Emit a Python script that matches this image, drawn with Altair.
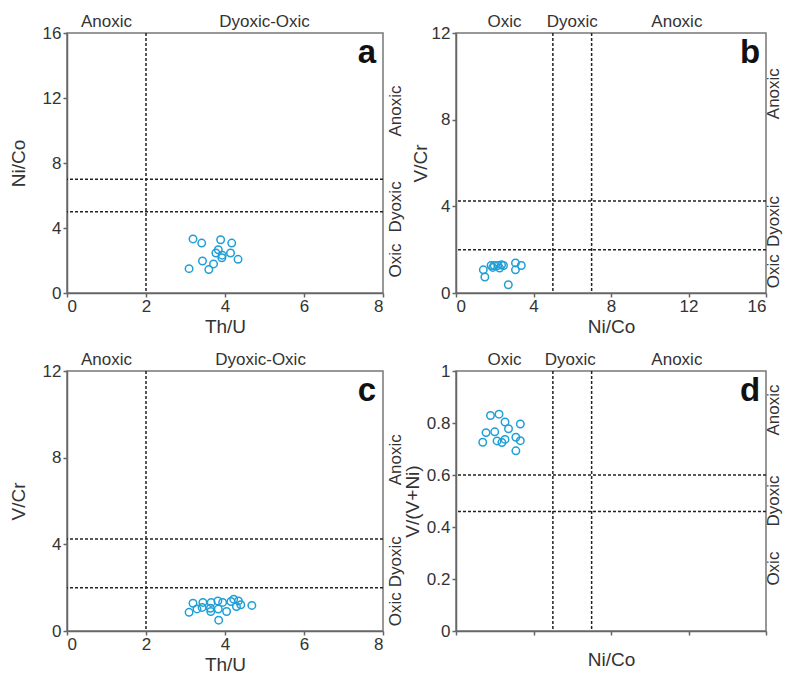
import altair as alt
import pandas as pd

FONT = "Liberation Sans"
W1, W2, H = 316, 310, 260
PT_COLOR = "#1f9fd6"
ZFS = 17  # zone label font size

# ---------- data ----------
a_thu = [3.19, 3.41, 3.89, 4.17, 3.83, 3.77, 3.93, 3.92, 4.14, 4.33, 3.43, 3.71, 3.59, 3.09]
a_nico = [3.33, 3.07, 3.28, 3.07, 2.66, 2.46, 2.33, 2.17, 2.46, 2.07, 1.97, 1.79, 1.44, 1.50]

b_nico = [1.41, 1.49, 1.81, 1.97, 2.16, 2.25, 2.45, 3.07, 3.07, 3.37, 2.70, 1.90, 2.35]
b_vcr = [1.07, 0.74, 1.27, 1.27, 1.27, 1.15, 1.27, 1.39, 1.07, 1.27, 0.38, 1.18, 1.30]

c_thu = [3.09, 3.19, 3.29, 3.44, 3.42, 3.63, 3.65, 3.82, 3.94, 3.64, 3.83, 4.04, 3.84,
         4.15, 4.22, 4.34, 4.40, 4.29, 4.68]
c_vcr = [0.86, 1.28, 1.02, 1.32, 1.09, 1.05, 1.32, 1.39, 1.32, 0.90, 1.01, 0.90, 0.50,
         1.36, 1.47, 1.39, 1.21, 1.13, 1.18]

d_nico = [1.78, 2.22, 2.53, 2.71, 3.32, 1.55, 2.00, 1.38, 2.12, 2.37, 2.53, 3.09, 3.32, 3.09]
d_vvni = [0.829, 0.834, 0.804, 0.778, 0.796, 0.763, 0.766, 0.726, 0.731, 0.725, 0.737,
          0.745, 0.732, 0.693]

# thresholds
a_vlines, a_hlines = [2], [7, 5]
b_vlines, b_hlines = [5, 7], [4.25, 2]
c_vlines, c_hlines = [2], [4.25, 2]
d_vlines, d_hlines = [5, 7], [0.6, 0.46]

# zone labels (top: label, x-position; right: label, y-position)
a_top = (["Anoxic", "Dyoxic-Oxic"], [1.0, 5.0])
a_right = (["Anoxic", "Dyoxic", "Oxic"], [11.2, 5.3, 2.0])
b_top = (["Oxic", "Dyoxic", "Anoxic"], [2.5, 6.0, 11.4])
b_right = (["Anoxic", "Dyoxic", "Oxic"], [9.2, 3.3, 1.0])
c_top = (["Anoxic", "Dyoxic-Oxic"], [1.0, 4.9])
c_right = (["Anoxic", "Dyoxic", "Oxic"], [7.9, 3.2, 1.0])
d_top = (["Oxic", "Dyoxic", "Anoxic"], [2.5, 5.9, 11.4])
d_right = (["Anoxic", "Dyoxic", "Oxic"], [0.85, 0.5, 0.24])


def panel(w, xs, ys, xdom, ydom, xticks, yticks, xtitle, ytitle, vlines, hlines,
          top, right, letter, xlabels=True, ytitle_pad=8, rlab_off=13, yfmt="~g",
          xtitle_pad=3):
    xsc = alt.Scale(domain=xdom, nice=False, zero=False)
    ysc = alt.Scale(domain=ydom, nice=False, zero=False)
    pts = alt.Chart(pd.DataFrame({"x": xs, "y": ys})).mark_point(
        shape="circle", filled=False, size=56, strokeWidth=1.5, color=PT_COLOR, opacity=1
    ).encode(
        x=alt.X("x:Q", scale=xsc, title=xtitle,
                axis=alt.Axis(values=xticks, labels=xlabels, grid=False,
                              titlePadding=xtitle_pad)),
        y=alt.Y("y:Q", scale=ysc, title=ytitle,
                axis=alt.Axis(values=yticks, grid=False, titlePadding=ytitle_pad,
                              format=yfmt)),
    )
    vr = alt.Chart(pd.DataFrame({"x": vlines})).mark_rule(
        color="#222", strokeDash=[3, 2], strokeWidth=1.5
    ).encode(x=alt.X("x:Q", scale=xsc))
    hr = alt.Chart(pd.DataFrame({"y": hlines})).mark_rule(
        color="#222", strokeDash=[3, 2], strokeWidth=1.5
    ).encode(y=alt.Y("y:Q", scale=ysc))
    tl = alt.Chart(pd.DataFrame({"label": top[0], "x": top[1]})).mark_text(
        font=FONT, fontSize=ZFS, color="#333", baseline="alphabetic", align="center"
    ).encode(x=alt.X("x:Q", scale=xsc), y=alt.value(-6), text="label:N")
    rl = alt.Chart(pd.DataFrame({"label": right[0], "y": right[1]})).mark_text(
        font=FONT, fontSize=ZFS, color="#333", baseline="middle", align="center", angle=270
    ).encode(y=alt.Y("y:Q", scale=ysc), x=alt.value(w + rlab_off), text="label:N")
    lt = alt.Chart(pd.DataFrame({"label": [letter]})).mark_text(
        font=FONT, fontSize=33, fontWeight="bold", color="#111",
        baseline="middle", align="center"
    ).encode(x=alt.value(w - 16), y=alt.value(20), text="label:N")
    return alt.layer(hr, vr, pts, tl, rl, lt).properties(width=w, height=H)


pa = panel(W1, a_thu, a_nico, [0, 8], [0, 16], [0, 2, 4, 6, 8], [0, 4, 8, 12, 16],
           "Th/U", "Ni/Co", a_vlines, a_hlines, a_top, a_right, "a", ytitle_pad=14)
pb = panel(W2, b_nico, b_vcr, [0, 16], [0, 12], [0, 4, 8, 12, 16], [0, 4, 8, 12],
           "Ni/Co", "V/Cr", b_vlines, b_hlines, b_top, b_right, "b", ytitle_pad=1,
           rlab_off=8)
pc = panel(W1, c_thu, c_vcr, [0, 8], [0, 12], [0, 2, 4, 6, 8], [0, 4, 8, 12],
           "Th/U", "V/Cr", c_vlines, c_hlines, c_top, c_right, "c", ytitle_pad=14)
pd_ = panel(W2, d_nico, d_vvni, [0, 16], [0, 1], list(range(0, 17, 2)),
            [0, 0.2, 0.4, 0.6, 0.8, 1], "Ni/Co", "V/(V+Ni)", d_vlines, d_hlines,
            d_top, d_right, "d", xlabels=False, ytitle_pad=4, rlab_off=8,
            xtitle_pad=15)

chart = alt.concat(pa, pb, pc, pd_, columns=2, spacing={"row": 78, "column": 73},
                   bounds="flush").configure_view(
    stroke="#777", strokeWidth=1.5
).configure_axis(
    labelFont=FONT, titleFont=FONT, labelFontSize=17, titleFontSize=19,
    labelColor="#333", titleColor="#333", titleFontWeight="normal",
    domainColor="#666", domainWidth=1.5, tickColor="#666", tickWidth=1.5, tickSize=4,
    labelPadding=2
).configure_axisX(labelPadding=1).properties(
    padding={"left": 0, "top": 4, "right": 0, "bottom": 0})

chart.save("out.html", embed_options={"renderer": "svg", "actions": False})
